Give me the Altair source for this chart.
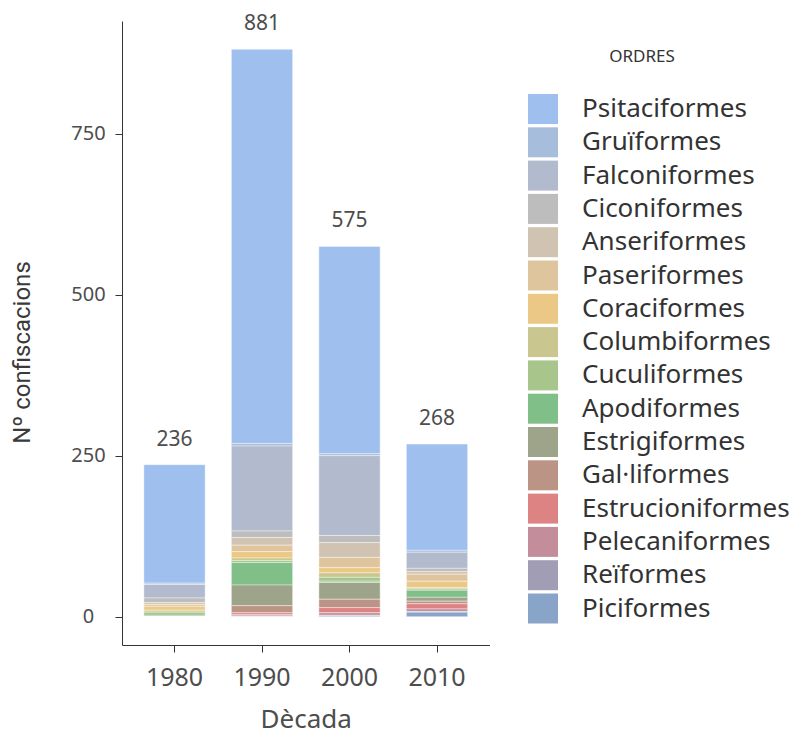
import altair as alt
import pandas as pd

decades = ["1980", "1990", "2000", "2010"]
orders = ["Psitaciformes", "Gruïformes", "Falconiformes", "Ciconiformes",
          "Anseriformes", "Paseriformes", "Coraciformes", "Columbiformes",
          "Cuculiformes", "Apodiformes", "Estrigiformes", "Gal·liformes",
          "Estrucioniformes", "Pelecaniformes", "Reïformes", "Piciformes"]
colors = ["#9fbfef", "#a6bddc", "#b2bace", "#bdbdbd",
          "#d0c3b2", "#dfc59e", "#ecc886", "#c9c78f",
          "#a8c68c", "#80c088", "#9ea489", "#bc9485",
          "#de8383", "#c48d9c", "#a19db5", "#88a5c9"]

psitaciformes = [184, 612, 322, 165]
gruiformes = [2, 4, 3, 3]
falconiformes = [21, 132, 124, 25]
ciconiformes = [7, 10, 11, 5]
anseriformes = [3, 12, 23, 4]
paseriformes = [3, 10, 16, 11]
coraciformes = [6, 10, 8, 10]
columbiformes = [3, 4, 7, 2]
cuculiformes = [5, 3, 6, 2]
apodiformes = [2, 35, 2, 11]
estrigiformes = [0, 32, 26, 6]
galliformes = [0, 11, 13, 4]
estrucioniformes = [0, 3, 8, 8]
pelecaniformes = [0, 2, 4, 4]
reiformes = [0, 1, 1, 1]
piciformes = [0, 0, 1, 7]

series = [psitaciformes, gruiformes, falconiformes, ciconiformes,
          anseriformes, paseriformes, coraciformes, columbiformes,
          cuculiformes, apodiformes, estrigiformes, galliformes,
          estrucioniformes, pelecaniformes, reiformes, piciformes]

rows = []
for rank, (name, vals) in enumerate(zip(orders, series)):
    for d, v in zip(decades, vals):
        rows.append({"decada": d, "ordre": name, "rank": rank, "n": v})
df = pd.DataFrame(rows)

FONT = "Noto Sans"
TFONT = "Roboto"

x_enc = alt.X("decada:N", sort=decades,
              scale=alt.Scale(paddingInner=0.3, paddingOuter=0.25),
              axis=alt.Axis(title="Dècada", labelAngle=0, labelFontSize=25,
                            labelFont=FONT, labelColor="#4d4d4d", labelPadding=13,
                            tickSize=7, tickColor="#333333", domainColor="#333333",
                            titleFont=FONT, titleFontSize=26, titleFontWeight="normal",
                            titleColor="#4d4d4d", titleBaseline="middle", titleY=74))
y_axis = alt.Axis(title="Nº confiscacions", values=[0, 250, 500, 750], grid=False,
                  labelFontSize=20, labelFont=FONT, labelColor="#4d4d4d",
                  labelAlign="center", labelPadding=27, tickSize=7,
                  tickColor="#333333", domainColor="#333333",
                  titleFont=TFONT, titleFontSize=24,
                  titleFontWeight="normal", titleColor="#3a3a3a",
                  titleX=-100, titleY=331, titleAngle=-90, titleAlign="center",
                  titleBaseline="middle")
y_scale = alt.Scale(domain=[-44.05, 925.05], nice=False, zero=False)

base = alt.Chart(df)
bars = base.mark_bar(stroke="white", strokeWidth=0.4).encode(
    x=x_enc,
    y=alt.Y("n:Q", stack="zero", scale=y_scale, axis=y_axis),
    color=alt.Color("ordre:N",
                    scale=alt.Scale(domain=orders, range=colors),
                    legend=alt.Legend(title=None, orient="none", legendX=406,
                                      legendY=73, symbolType="square",
                                      symbolSize=900, symbolStrokeWidth=0,
                                      symbolOpacity=1, rowPadding=3.3,
                                      labelFont=FONT, labelFontSize=26,
                                      labelColor="#333333", labelOffset=24,
                                      labelLimit=400, padding=0)),
    order=alt.Order("rank:Q", sort="descending"),
)

totals = base.transform_aggregate(n="sum(n)", groupby=["decada"]).mark_text(
    dy=-25, fontSize=21, font=FONT, color="#4d4d4d", baseline="middle"
).encode(
    x=alt.X("decada:N", sort=decades),
    y=alt.Y("n:Q", scale=y_scale, axis=y_axis),
    text=alt.Text("n:Q"),
)

legend_title = alt.Chart(pd.DataFrame({"t": ["ORDRES"]})).mark_text(
    fontSize=17, font=FONT, color="#333333", align="center", baseline="middle"
).encode(x=alt.value(520), y=alt.value(36), text="t:N")

chart = alt.layer(bars, totals, legend_title).properties(
    width=367.5, height=624,
    padding={"left": 114, "top": 13, "right": 312, "bottom": 89},
    autosize=alt.AutoSizeParams(type="none"),
).configure_view(stroke=None)

chart.save("out.html", embed_options={"renderer": "svg", "actions": False})
